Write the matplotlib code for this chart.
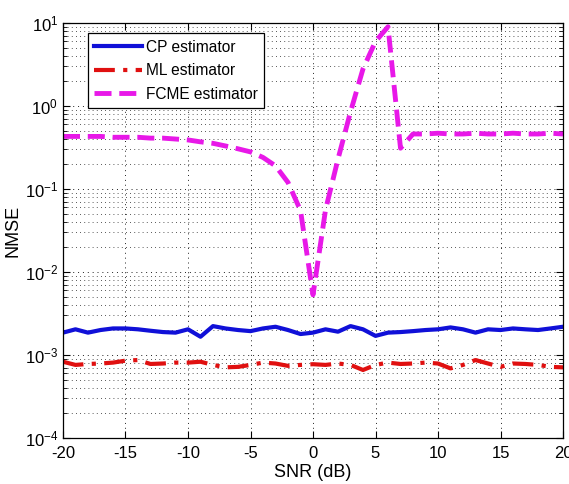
import numpy as np
import matplotlib
matplotlib.use('Agg')
import matplotlib.pyplot as plt
import matplotlib.ticker as ticker

plt.rcParams['font.family'] = ['Liberation Sans', 'DejaVu Sans']
plt.rcParams['mathtext.fontset'] = 'custom'
plt.rcParams['mathtext.rm'] = 'Liberation Sans'
plt.rcParams['mathtext.it'] = 'Liberation Sans'
plt.rcParams['axes.unicode_minus'] = False

snr = list(range(-20, 21))

cp_nmse = [1.86e-3, 2.04e-3, 1.86e-3, 2.0e-3, 2.09e-3, 2.09e-3, 2.04e-3, 1.96e-3, 1.89e-3, 1.86e-3,
           2.04e-3, 1.66e-3, 2.23e-3, 2.09e-3, 2.0e-3, 1.94e-3, 2.09e-3, 2.19e-3, 2.0e-3, 1.79e-3,
           1.86e-3, 2.04e-3, 1.91e-3, 2.23e-3, 2.04e-3, 1.70e-3, 1.86e-3, 1.89e-3, 1.94e-3, 2.0e-3,
           2.04e-3, 2.15e-3, 2.04e-3, 1.86e-3, 2.04e-3, 2.0e-3, 2.09e-3, 2.04e-3, 2.0e-3, 2.09e-3, 2.19e-3]

ml_nmse = [8.3e-4, 7.6e-4, 7.8e-4, 7.9e-4, 8.1e-4, 8.55e-4, 8.7e-4, 7.8e-4, 7.9e-4, 8.1e-4,
           8.1e-4, 8.3e-4, 7.6e-4, 7.1e-4, 7.2e-4, 7.6e-4, 8.1e-4, 7.9e-4, 7.4e-4, 7.6e-4,
           7.75e-4, 7.6e-4, 7.9e-4, 7.6e-4, 6.6e-4, 7.6e-4, 8.1e-4, 7.8e-4, 7.9e-4, 8.1e-4,
           7.9e-4, 6.9e-4, 7.6e-4, 8.7e-4, 7.9e-4, 7.2e-4, 7.9e-4, 7.8e-4, 7.6e-4, 7.2e-4, 7.1e-4]

fcme_nmse = [0.43, 0.43, 0.43, 0.43, 0.42, 0.42, 0.42, 0.41, 0.41, 0.40,
             0.39, 0.37, 0.355, 0.33, 0.305, 0.28, 0.24, 0.19, 0.12, 0.055,
             0.0053, 0.056, 0.23, 0.85, 2.8, 6.0, 9.0, 0.31, 0.46, 0.46,
             0.47, 0.46, 0.46, 0.47, 0.46, 0.46, 0.47, 0.46, 0.46, 0.47, 0.46]

fig = plt.figure(figsize=(5.69, 4.84), dpi=100)
ax = fig.add_axes([0.1107, 0.095, 0.8788, 0.8575])

ax.semilogy(snr, cp_nmse, '-', color='#1010d8', lw=3.0, label='CP estimator')
ax.semilogy(snr, ml_nmse, color='#e01010', lw=3.0, dashes=(5, 2, 1, 2), label='ML estimator')
ax.semilogy(snr, fcme_nmse, color='#e818e8', lw=3.5, dashes=(3.5, 1.6), label='FCME estimator')

ax.set_xlim(-20, 20)
ax.set_ylim(1e-4, 10)
ax.xaxis.set_major_locator(ticker.MultipleLocator(5))
ax.yaxis.set_major_locator(ticker.LogLocator(base=10, numticks=10))
ax.yaxis.set_minor_locator(ticker.LogLocator(base=10, subs=np.arange(2, 10), numticks=10))
ax.yaxis.set_minor_formatter(ticker.NullFormatter())

dot = (0, (1, 4))
ax.grid(True, which='major', linestyle=dot, color='#202020', lw=0.7)
ax.grid(True, which='minor', axis='y', linestyle=dot, color='#202020', lw=0.6)
ax.tick_params(which='both', direction='in', top=True, right=True, labelsize=12)
ax.tick_params(which='major', length=5)
ax.tick_params(axis='x', which='major', pad=6)
ax.tick_params(which='minor', length=3)
for s in ax.spines.values():
    s.set_linewidth(0.9)

ax.set_xlabel('SNR (dB)', fontsize=13, labelpad=2)
ax.set_ylabel('NMSE', fontsize=13, labelpad=2)

leg = ax.legend(loc='upper left', bbox_to_anchor=(0.05, 0.975), borderaxespad=0, fontsize=11.2,
                fancybox=False, edgecolor='black', framealpha=1,
                handlelength=3.1, borderpad=0.4, labelspacing=0.55, handletextpad=0.25)
leg.get_frame().set_linewidth(0.9)

fig.savefig('out.png', dpi=100)
